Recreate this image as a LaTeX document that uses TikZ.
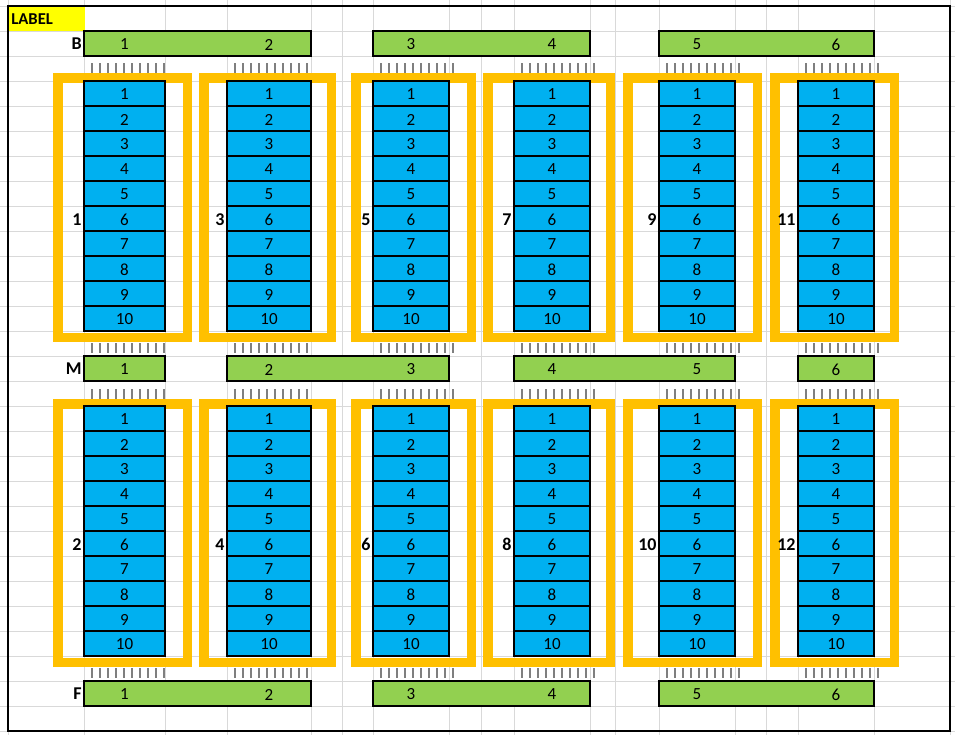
\documentclass[tikz,border=0pt]{standalone}
\usepackage{fontspec}
\setmainfont{Carlito}
\usetikzlibrary{positioning}
\definecolor{cellBlue}{HTML}{00B0F0}
\definecolor{barGreen}{HTML}{92D050}
\definecolor{frameGold}{HTML}{FFC000}
\definecolor{labelYellow}{HTML}{FFFF00}
\definecolor{gridGray}{HTML}{D9D9D9}
\definecolor{tickGray}{HTML}{7F7F7F}

\begin{document}
\begin{tikzpicture}[x=0.5pt, y=-0.5pt, font=\fontsize{8.5}{10}\selectfont,
  cellbox/.style={draw=black, fill=cellBlue, line width=1pt},
  barbox/.style={draw=black, fill=barGreen, line width=1pt},
  framebox/.style={draw=frameGold, line width=4.75pt},
  tickline/.style={draw=tickGray, line width=1pt},
  gridline/.style={draw=gridGray, line width=0.5pt},
  tag/.style={font=\fontsize{9}{10}\selectfont\bfseries, anchor=east, inner sep=0pt}]

\useasboundingbox (0,0) rectangle (955,735);

\foreach \gy in {6,31,...,731} \draw[gridline] (0,\gy) -- (955,\gy);
\foreach \gx in {8,84,165,227,311,342,373,449,481,514,590,615,659,735,766,798,874,950}
  \draw[gridline] (\gx,0) -- (\gx,735);

\draw[fill=labelYellow, draw=none] (8,6) rectangle (85,31);
\node[anchor=west, inner sep=0pt, font=\fontsize{8.3}{10}\selectfont\bfseries] (label) at (11,19) {LABEL};

% bays
\foreach \fl/\fr/\cl/\cr/\up/\lo in {53/192/84/165/1/2, 199/336/227/311/3/4,
    351/476/373/449/5/6, 483/615/514/590/7/8, 623/762/659/735/9/10, 770/899/798/874/11/12} {
  \draw[framebox] (\fl+4.75,77.75) rectangle (\fr-4.75,337.25);
  \draw[framebox] (\fl+4.75,403.75) rectangle (\fr-4.75,662.25);
  \foreach \k in {1,...,10} {
    \draw[cellbox] (\cl,56+25*\k) rectangle (\cr,81+25*\k);
    \node (u\up-\k) at ({(\cl+\cr)/2},69.5+25*\k) {\k};
    \draw[cellbox] (\cl,381+25*\k) rectangle (\cr,406+25*\k);
    \node (l\lo-\k) at ({(\cl+\cr)/2},394.5+25*\k) {\k};
  }
  \node[tag] (bay\up) at (\cl-2,219.5) {\up};
  \node[tag] (bay\lo) at (\cl-2,544.5) {\lo};
  \foreach \ty in {63,343,389,668}
    \foreach \t in {0,...,9}
      \draw[tickline] (\cl+8+8*\t,\ty) -- ++(0,10);
}

% rails
\draw[barbox] (84,31) rectangle (311,56);
\draw[barbox] (373,31) rectangle (590,56);
\draw[barbox] (659,31) rectangle (874,56);
\draw[barbox] (84,356) rectangle (165,381);
\draw[barbox] (227,356) rectangle (449,381);
\draw[barbox] (514,356) rectangle (735,381);
\draw[barbox] (798,356) rectangle (874,381);
\draw[barbox] (84,681) rectangle (311,706);
\draw[barbox] (373,681) rectangle (590,706);
\draw[barbox] (659,681) rectangle (874,706);
\foreach \cx [count=\n] in {124.5,269,411,552,697,836} {
  \node (b\n) at (\cx,44.5) {\n};
  \node (m\n) at (\cx,369.5) {\n};
  \node (f\n) at (\cx,694.5) {\n};
}
\node[tag] (rowB) at (82,44) {B};
\node[tag] (rowM) at (82,369) {M};
\node[tag] (rowF) at (82,694) {F};

\draw[line width=1pt] (8,6) rectangle (950,731);

\end{tikzpicture}
\end{document}
